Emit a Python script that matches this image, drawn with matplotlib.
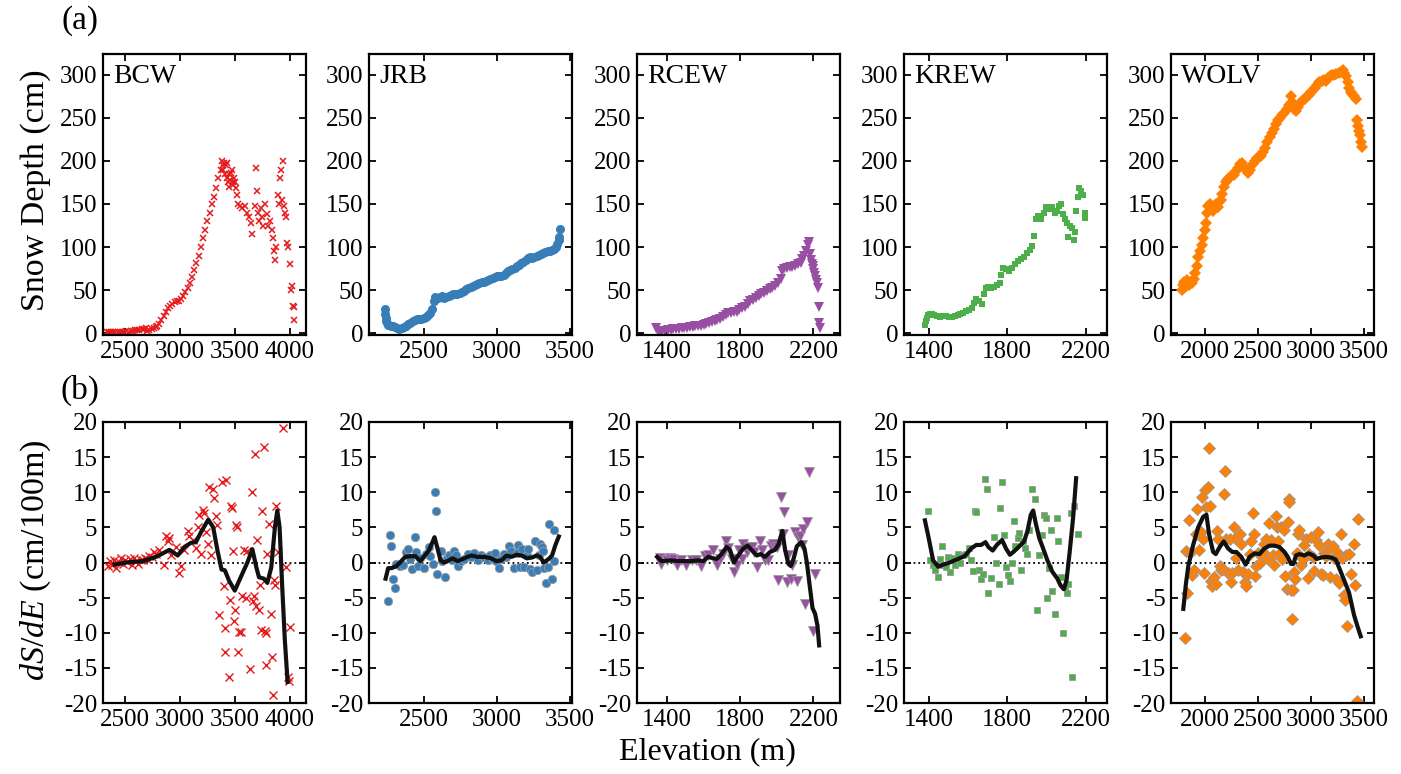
import numpy as np
import matplotlib.pyplot as plt

plt.rcParams['font.family'] = ['Liberation Serif', 'DejaVu Serif']
plt.rcParams['mathtext.fontset'] = 'custom'
plt.rcParams['mathtext.rm'] = 'Liberation Serif'
plt.rcParams['mathtext.it'] = 'Liberation Serif:italic'
plt.rcParams['axes.unicode_minus'] = False

# ---------------- (a) snow depth vs elevation ----------------
bcw_elev = [2330, 2350, 2370, 2390, 2410, 2430, 2450, 2470, 2490, 2510, 2530, 2550, 2570, 2590,
            2610, 2630, 2650, 2670, 2690, 2700, 2720, 2740, 2760, 2780, 2790, 2810, 2830, 2850,
            2870, 2890, 2910, 2930, 2950, 2970, 2990, 3010, 3030, 3050, 3070, 3090, 3110, 3130,
            3150, 3170, 3190, 3210, 3230, 3250, 3270, 3290, 3310, 3330, 3350, 3370, 3380, 3390,
            3395, 3400, 3410, 3420, 3425, 3430, 3440, 3445, 3450, 3460, 3465, 3470, 3480, 3485,
            3490, 3500, 3510, 3520, 3530, 3550, 3570, 3590, 3610, 3630, 3650, 3660, 3680, 3690,
            3700, 3710, 3720, 3740, 3750, 3760, 3780, 3790, 3800, 3820, 3840, 3850, 3860, 3870,
            3880, 3890, 3900, 3910, 3920, 3930, 3940, 3950, 3960, 3970, 3980, 3990, 4000, 4010,
            4020, 4030, 4040, 4045]
bcw_depth = [1, 2, 1, 2, 1, 2, 1, 2, 2, 3, 2, 3, 3, 4,
             4, 4, 5, 5, 6, 3, 4, 5, 6, 7, 9, 11, 15, 20,
             25, 29, 32, 34, 36, 37, 38, 40, 43, 48, 53, 58, 65, 73,
             82, 90, 100, 110, 120, 130, 140, 150, 158, 168, 180, 190, 200, 195,
             190, 197, 185, 195, 198, 180, 175, 170, 185, 178, 186, 190, 172, 175,
             180, 175, 168, 160, 150, 148, 145, 148, 140, 135, 128, 115, 148, 192,
             165, 140, 130, 145, 135, 125, 150, 138, 125, 130, 120, 110, 95, 85,
             100, 160, 150, 180, 190, 155, 200, 148, 140, 135, 105, 100, 80, 50,
             55, 32, 30, 15]

jrb_elev = [2235, 2238, 2240, 2245, 2250, 2260, 2275, 2290, 2305, 2320, 2335, 2350, 2365, 2380,
            2395, 2410, 2425, 2440, 2455, 2470, 2485, 2500, 2515, 2530, 2545, 2560, 2570, 2580,
            2595, 2610, 2625, 2640, 2655, 2670, 2685, 2700, 2715, 2730, 2745, 2760, 2775, 2790,
            2805, 2820, 2835, 2850, 2865, 2880, 2895, 2910, 2925, 2940, 2955, 2970, 2985, 3000,
            3015, 3030, 3045, 3060, 3075, 3090, 3105, 3120, 3135, 3150, 3165, 3180, 3195, 3210,
            3225, 3240, 3255, 3270, 3285, 3300, 3315, 3330, 3345, 3360, 3375, 3390, 3400, 3410,
            3420, 3425, 3430]
jrb_depth = [28, 22, 18, 14, 12, 10, 9, 8, 7, 6, 5, 6, 7, 9,
             11, 12, 14, 15, 16, 17, 17, 18, 19, 21, 24, 28, 38, 42,
             41, 42, 43, 41, 42, 43, 44, 45, 45, 46, 47, 48, 49, 51,
             53, 54, 55, 56, 57, 58, 59, 60, 61, 62, 63, 64, 65, 66,
             67, 66, 68, 70, 72, 73, 74, 76, 78, 79, 81, 83, 85, 87,
             88, 87, 89, 90, 91, 92, 93, 94, 95, 96, 97, 98, 100, 104,
             108, 112, 121]

rcew_elev = [1340, 1350, 1360, 1375, 1390, 1405, 1420, 1435, 1450, 1465, 1480, 1495, 1510, 1525,
             1540, 1555, 1570, 1585, 1600, 1615, 1630, 1645, 1660, 1675, 1690, 1705, 1720, 1735,
             1750, 1765, 1780, 1795, 1810, 1825, 1840, 1855, 1870, 1885, 1900, 1915, 1930, 1945,
             1960, 1975, 1990, 2005, 2020, 2030, 2040, 2055, 2070, 2085, 2100, 2115, 2130, 2140,
             2150, 2160, 2170, 2175, 2180, 2185, 2190, 2195, 2200, 2205, 2210, 2215, 2220, 2225,
             2228, 2232, 2236]
rcew_depth = [6, 3, 2, 3, 3, 4, 4, 5, 5, 5, 6, 6, 6, 7,
              7, 8, 8, 9, 10, 11, 12, 13, 14, 15, 17, 19, 21, 23,
              24, 25, 25, 27, 29, 31, 34, 37, 39, 41, 43, 45, 47, 49,
              51, 53, 55, 58, 63, 72, 75, 76, 77, 77, 78, 80, 82, 86,
              90, 95, 102, 106, 92, 85, 80, 78, 75, 70, 66, 62, 58, 52,
              30, 12, 6]

krew_elev = [1378, 1382, 1388, 1395, 1405, 1415, 1425, 1440, 1455, 1470, 1485, 1500, 1515, 1530,
             1545, 1560, 1575, 1590, 1605, 1620, 1630, 1640, 1655, 1670, 1680, 1690, 1700, 1715,
             1730, 1745, 1760, 1770, 1780, 1795, 1810, 1825, 1840, 1855, 1870, 1885, 1900, 1915,
             1925, 1935, 1945, 1955, 1970, 1985, 2000, 2015, 2030, 2045, 2055, 2065, 2075, 2085,
             2095, 2105, 2110, 2120, 2130, 2140, 2145, 2150, 2160, 2165, 2175, 2185, 2195, 2198]
krew_depth = [10, 14, 18, 21, 22, 22, 21, 20, 19, 20, 20, 19, 19, 20,
              21, 22, 24, 26, 27, 29, 35, 40, 37, 34, 45, 52, 54, 52,
              54, 56, 58, 68, 76, 74, 72, 76, 80, 84, 86, 89, 93, 97,
              101, 113, 133, 136, 133, 140, 146, 144, 147, 140, 142, 148, 150, 138,
              132, 128, 112, 124, 122, 108, 118, 142, 158, 168, 165, 160, 140, 134]

wolv_elev = [1780, 1790, 1800, 1810, 1820, 1835, 1850, 1865, 1880, 1895, 1910, 1925, 1940, 1955,
             1970, 1985, 2000, 2010, 2020, 2030, 2045, 2060, 2075, 2090, 2105, 2120, 2135, 2150,
             2165, 2180, 2195, 2210, 2230, 2250, 2270, 2290, 2310, 2330, 2350, 2370, 2390, 2410,
             2430, 2450, 2470, 2490, 2510, 2530, 2550, 2570, 2590, 2610, 2630, 2650, 2670, 2690,
             2710, 2730, 2750, 2770, 2790, 2810, 2825, 2840, 2860, 2880, 2900, 2920, 2940, 2960,
             2980, 3000, 3020, 3040, 3060, 3080, 3100, 3120, 3140, 3160, 3180, 3200, 3220, 3240,
             3260, 3280, 3300, 3315, 3330, 3345, 3360, 3375, 3390, 3405, 3420, 3435, 3445, 3455,
             3465, 3475, 3485]
wolv_depth = [50, 56, 60, 54, 58, 62, 56, 60, 58, 63, 70, 78, 88, 95,
              102, 110, 120, 128, 140, 148, 150, 146, 142, 148, 150, 147, 152, 155,
              162, 170, 176, 178, 180, 182, 184, 188, 192, 196, 198, 193, 190, 186,
              190, 196, 200, 203, 204, 206, 210, 215, 222, 228, 232, 237, 243, 247,
              250, 253, 256, 260, 265, 275, 268, 260, 258, 262, 267, 270, 272, 275,
              277, 280, 282, 285, 288, 292, 293, 294, 293, 296, 299, 300, 300, 301,
              302, 303, 305, 302, 298, 292, 285, 280, 278, 275, 272, 248, 240, 235,
              230, 222, 216]

# ---------------- (b) gradient dS/dE and smoothed curve ----------------
bcw_gx = [2340, 2360, 2380, 2400, 2418, 2440, 2464, 2480, 2500, 2520, 2540, 2560, 2580, 2600,
          2620, 2640, 2660, 2680, 2700, 2720, 2740, 2760, 2780, 2812, 2858, 2873, 2888, 2903,
          2920, 2964, 2994, 3009, 3039, 3070, 3085, 3115, 3145, 3161, 3176, 3191, 3206, 3221,
          3236, 3251, 3267, 3282, 3297, 3312, 3327, 3342, 3358, 3379, 3397, 3409, 3412, 3418,
          3448, 3454, 3464, 3479, 3485, 3494, 3500, 3515, 3524, 3533, 3539, 3554, 3564, 3585,
          3600, 3615, 3636, 3654, 3670, 3676, 3685, 3691, 3706, 3721, 3727, 3736, 3751, 3766,
          3773, 3782, 3788, 3797, 3812, 3827, 3842, 3851, 3857, 3866, 3873, 3894, 3939, 3969,
          3988, 3994, 4000]
bcw_grad = [-0.5, 0.2, -0.3, 0.4, -0.8, 0.1, 0.7, -0.2, 0.3, 0.1, 0.5, -0.3, 0.6, 0.2,
            -0.2, 0.4, 0.3, 0.6, 0.5, 0.9, 0.8, 1.5, 1.2, 1.8, -0.3, 3.8, 3.0, 3.5,
            1.0, 2.2, -1.5, -0.5, 1.8, 4.5, 3.8, 3.2, 2.0, 5.0, 6.7, 1.2, 7.5, 7.0,
            4.3, 2.7, 10.8, 1.0, 10.5, 9.2, 6.6, 5.4, -7.5, 11.5, -3.3, -9.3, -12.7, 11.8,
            -16.3, -5.3, 8.0, 7.8, 1.7, -8.3, -6.8, 5.4, 5.1, -12.7, -9.9, -9.9, -4.8, 1.8,
            -5.0, 1.7, -15.2, 10.0, -5.5, -4.8, 15.4, -6.2, 3.2, -6.8, -3.2, -9.6, 7.4, 16.4,
            -9.7, -14.6, -10.0, 1.2, 5.5, -7.4, -13.4, -18.9, -2.5, -3.2, 8.0, 1.5, 19.1, -0.7,
            -16.3, -16.8, -9.2]
bcw_lx = [2403, 2509, 2661, 2782, 2903, 2979, 3039, 3100, 3145, 3191, 3258, 3303, 3342, 3379,
          3409, 3448, 3500, 3554, 3615, 3660, 3697, 3721, 3766, 3797, 3833, 3866, 3888, 3909,
          3933, 3957, 3982]
bcw_line = [-0.3, 0.0, 0.2, 0.8, 1.8, 1.0, 2.2, 2.8, 2.9, 4.3, 6.1, 5.0, 1.7, -1.0,
            -1.1, -2.6, -4.0, -2.1, 0.0, 1.9, -0.7, -2.1, -2.3, -2.9, -0.7, 5.0, 7.4, 5.0,
            -3.5, -11.1, -17.0]

jrb_gx = [2258, 2270, 2277, 2288, 2304, 2311, 2339, 2362, 2380, 2392, 2408, 2420, 2443, 2450,
          2461, 2477, 2500, 2519, 2535, 2546, 2565, 2574, 2581, 2592, 2615, 2627, 2645, 2662,
          2673, 2691, 2708, 2719, 2731, 2754, 2777, 2800, 2823, 2846, 2869, 2892, 2915, 2938,
          2950, 2973, 2984, 2996, 3014, 3030, 3049, 3065, 3081, 3099, 3118, 3134, 3145, 3157,
          3168, 3187, 3203, 3214, 3226, 3242, 3261, 3272, 3284, 3295, 3307, 3314, 3323, 3334,
          3346, 3353, 3376, 3387, 3392]
jrb_grad = [-5.5, 3.9, 2.4, -2.4, -3.6, -0.2, -0.5, -0.3, 1.5, 1.9, 0.5, -0.9, 3.7, 1.5,
            -0.5, 0.6, -0.8, 1.2, 2.2, 0.9, -0.2, 10.0, 7.4, -1.7, 1.6, 0.2, -2.1, 0.7,
            1.0, 0.3, 1.6, 1.0, -0.5, 0.2, 0.5, 1.2, 0.8, 1.4, 0.3, 1.0, 0.8, 0.3,
            1.0, 0.5, 1.3, 0.2, -0.8, 0.5, 1.2, 0.8, 2.4, 1.7, -0.8, 1.4, 2.5, -0.6,
            1.9, -0.6, 1.0, 1.9, -0.9, -1.3, 3.0, -1.0, 1.0, 2.7, 2.2, 1.6, -0.8, -2.9,
            -0.6, 5.5, -2.4, 0.2, 4.6]
jrb_lx = [2240, 2258, 2281, 2316, 2374, 2408, 2443, 2477, 2512, 2535, 2558, 2574, 2592, 2615,
          2638, 2662, 2696, 2731, 2777, 2823, 2869, 2915, 2961, 2996, 3030, 3065, 3099, 3134,
          3168, 3203, 3237, 3272, 3295, 3318, 3353, 3376, 3399, 3422]
jrb_line = [-2.3, -0.8, -0.8, -0.5, 0.8, 0.9, 0.9, 0.2, 1.1, 1.7, 2.8, 3.6, 2.2, 0.3,
            0.0, 0.2, 0.6, 0.2, 0.6, 1.0, 0.8, 0.8, 0.6, 0.2, 0.3, 1.0, 0.8, 1.1,
            1.0, 0.6, 0.7, 1.0, 0.8, 0.0, 0.5, 1.0, 2.5, 3.7]

rcew_gx = [1360, 1369, 1400, 1415, 1433, 1457, 1479, 1506, 1534, 1561, 1588, 1607, 1625, 1652,
           1671, 1689, 1707, 1720, 1734, 1753, 1767, 1780, 1795, 1808, 1817, 1835, 1850, 1862,
           1875, 1890, 1908, 1917, 1935, 1954, 1966, 1981, 1999, 2008, 2023, 2036, 2039, 2054,
           2063, 2076, 2085, 2099, 2109, 2118, 2127, 2136, 2145, 2154, 2164, 2175, 2197, 2209]
rcew_grad = [0.6, -0.2, 0.4, 0.6, 0.5, -0.3, 0.4, -0.3, 0.3, 0.4, -0.5, 0.9, 1.1, 1.8,
             -0.4, 0.5, 1.2, 3.0, 2.0, 0.5, -1.4, -0.4, 1.8, 0.5, 2.6, 1.5, 2.2, 2.2,
             1.5, -0.6, 3.1, 1.8, 0.3, 0.4, 2.3, 2.6, 2.2, -2.5, 9.3, 4.0, 7.2, -2.8,
             1.0, -2.4, -0.4, 4.3, -2.7, 3.7, 3.8, 2.5, 4.7, -5.9, 5.7, 12.9, -9.8, -1.6]
rcew_lx = [1346, 1369, 1415, 1470, 1524, 1570, 1598, 1625, 1652, 1671, 1698, 1725, 1744, 1766,
           1789, 1817, 1840, 1862, 1890, 1912, 1935, 1963, 1990, 2008, 2030, 2045, 2063, 2076,
           2091, 2109, 2133, 2151, 2164, 2178, 2195, 2209, 2222, 2231]
rcew_line = [0.8, 0.2, 0.3, 0.2, 0.2, 0.3, 0.2, 0.8, 0.6, 0.5, 1.2, 2.2, 1.8, 0.0,
             1.0, 2.0, 2.4, 1.8, 1.0, 1.2, 0.8, 1.5, 1.8, 2.5, 4.5, 1.8, -0.2, -0.5,
             0.5, 2.3, 2.9, 2.0, 0.0, -3.0, -6.5, -7.3, -9.0, -11.8]

krew_gx = [1395, 1403, 1417, 1429, 1446, 1454, 1463, 1471, 1488, 1496, 1505, 1522, 1530, 1547,
           1559, 1573, 1590, 1603, 1615, 1624, 1632, 1641, 1654, 1666, 1674, 1686, 1695, 1703,
           1717, 1734, 1742, 1756, 1764, 1773, 1785, 1793, 1802, 1813, 1824, 1832, 1841, 1852,
           1861, 1869, 1878, 1891, 1900, 1912, 1924, 1941, 1954, 1963, 1976, 1985, 1996, 2005,
           2013, 2022, 2030, 2042, 2056, 2059, 2073, 2084, 2095, 2103, 2112, 2124, 2132, 2141,
           2163]
krew_grad = [7.3, 0.3, -0.4, -1.0, -2.1, 0.5, 2.3, -0.3, -0.6, 0.8, -1.4, 0.6, -0.4, 1.2,
             0.0, 1.1, 1.2, 2.0, 0.4, -1.2, 7.4, 7.2, -1.0, -2.3, -1.6, 11.9, 10.4, -4.4,
             -2.2, 3.6, 0.0, -3.0, 7.7, 11.4, 3.9, -0.7, -1.8, -2.7, -0.1, 5.9, 2.4, 3.5,
             4.2, -1.1, 3.0, 2.0, 1.2, 4.6, 10.5, 9.0, -6.8, 1.0, 3.9, 6.8, 6.3, -5.0,
             -0.8, 4.6, -4.0, -7.3, 6.4, 3.1, -2.0, -10.0, -3.5, -4.3, -3.0, 7.1, -16.3, 8.0,
             4.1]
krew_lx = [1378, 1395, 1420, 1446, 1471, 1505, 1547, 1581, 1615, 1641, 1666, 1688, 1703, 1725,
           1746, 1773, 1793, 1813, 1835, 1861, 1886, 1903, 1920, 1932, 1946, 1963, 1983, 2005,
           2030, 2056, 2073, 2089, 2103, 2119, 2137, 2152]
krew_line = [6.0, 3.8, 0.3, -0.6, -0.3, 0.0, 0.5, 0.9, 2.0, 2.5, 2.5, 2.9, 2.2, 1.7,
             2.5, 3.2, 2.0, 1.1, 1.6, 2.3, 3.0, 4.5, 6.8, 7.4, 5.5, 3.5, 2.0, 0.3,
             -1.3, -2.3, -3.3, -3.8, -2.5, 1.5, 6.5, 12.0]

wolv_gx = [1812, 1822, 1834, 1850, 1859, 1875, 1900, 1915, 1928, 1947, 1959, 1972, 1978, 1990,
           2003, 2015, 2031, 2040, 2053, 2062, 2072, 2087, 2103, 2115, 2128, 2140, 2156, 2172,
           2181, 2187, 2203, 2219, 2234, 2244, 2259, 2275, 2287, 2297, 2312, 2328, 2344, 2359,
           2375, 2390, 2406, 2422, 2437, 2453, 2459, 2469, 2484, 2500, 2515, 2531, 2547, 2562,
           2578, 2594, 2609, 2625, 2640, 2656, 2672, 2678, 2693, 2703, 2719, 2728, 2744, 2759,
           2772, 2781, 2790, 2797, 2812, 2822, 2828, 2837, 2853, 2865, 2875, 2890, 2906, 2922,
           2937, 2953, 2969, 2984, 3000, 3015, 3031, 3047, 3062, 3078, 3094, 3109, 3125, 3140,
           3156, 3172, 3181, 3203, 3219, 3234, 3250, 3265, 3281, 3297, 3312, 3322, 3334, 3344,
           3359, 3375, 3406, 3415, 3437, 3447]
wolv_grad = [-10.8, 1.7, -4.3, 6.0, 1.3, -1.8, -1.0, 4.0, 7.6, 1.8, 4.3, 9.3, 3.4, -1.5,
             10.3, 7.9, 10.8, 16.3, 8.1, -2.6, -3.3, -2.1, -3.0, 4.5, 3.3, -0.5, -1.0, -0.9,
             9.7, 13.0, 3.3, -1.5, 3.4, -2.8, -1.5, 5.1, 3.5, 0.6, -1.1, 4.0, 2.6, -1.4,
             -2.8, -3.4, -1.7, 1.2, 3.0, 7.0, 4.0, -1.9, -0.5, 1.3, -0.1, 1.0, 1.5, 2.6,
             3.4, 0.5, 5.6, 3.2, 1.0, -0.4, 6.6, 5.0, 3.1, 1.2, 5.0, 0.5, 4.6, -1.9,
             -3.8, 5.8, 9.1, 8.6, -3.9, -8.1, -3.9, -1.3, -2.3, 1.3, 4.1, 4.6, -0.4, 0.5,
             2.5, 3.4, -2.2, 1.2, 3.6, 0.8, -1.2, 3.2, 4.4, 2.5, -1.6, -1.8, 1.3, 0.9,
             2.7, 1.9, -2.1, 2.3, 0.6, -2.3, 1.5, -2.9, 4.1, 0.6, -4.6, -5.3, 1.0, -9.0,
             1.2, -1.7, 2.7, -3.2, -19.7, 6.2]
wolv_lx = [1797, 1822, 1844, 1890, 1937, 1984, 2015, 2040, 2078, 2103, 2140, 2178, 2219, 2259,
           2297, 2344, 2384, 2422, 2469, 2515, 2562, 2609, 2656, 2703, 2750, 2781, 2812, 2834,
           2859, 2890, 2937, 2978, 3022, 3053, 3094, 3140, 3194, 3234, 3272, 3312, 3359, 3406,
           3447, 3469]
wolv_line = [-6.6, -3.0, -0.5, 2.5, 5.0, 6.5, 6.8, 4.0, 1.5, 1.2, 2.2, 3.0, 2.0, 1.5,
             1.5, 0.8, -0.3, 0.8, 1.3, 1.2, 2.0, 2.4, 2.4, 2.2, 1.5, 0.8, -0.2, -0.2,
             1.0, 1.2, 1.0, 1.3, 1.0, 0.5, 0.7, 0.8, 0.7, 0.4, -1.0, -2.5, -4.3, -7.5,
             -9.5, -10.5]

sites = ['BCW', 'JRB', 'RCEW', 'KREW', 'WOLV']
top_x = [bcw_elev, jrb_elev, rcew_elev, krew_elev, wolv_elev]
top_y = [bcw_depth, jrb_depth, rcew_depth, krew_depth, wolv_depth]
bot_x = [bcw_gx, jrb_gx, rcew_gx, krew_gx, wolv_gx]
bot_y = [bcw_grad, jrb_grad, rcew_grad, krew_grad, wolv_grad]
line_x = [bcw_lx, jrb_lx, rcew_lx, krew_lx, wolv_lx]
line_y = [bcw_line, jrb_line, rcew_line, krew_line, wolv_line]
xticks = [[2500, 3000, 3500, 4000], [2500, 3000, 3500], [1400, 1800, 2200],
          [1400, 1800, 2200], [2000, 2500, 3000, 3500]]

# styles
colors = ['#e41a1c', '#377eb8', '#984ea3', '#4daf4a', '#ff7f00']
markers = ['x', 'o', 'v', 's', 'D']
ms_top = [5, 6.5, 7, 5, 6]
ms_bot = [5.5, 6, 7, 5, 6]
xlims = [(2297, 4150), (2127, 3512), (1236, 2345), (1271, 2310), (1681, 3594)]
lefts = [103, 369, 637, 904, 1171]

W, H = 1401, 774
fig = plt.figure(figsize=(W / 100, H / 100), dpi=100)


def style_axes(ax):
    for s in ax.spines.values():
        s.set_linewidth(1.6)
    ax.tick_params(direction='in', top=True, right=True, length=5, width=1.3,
                   labelsize=18, pad=4)


for i in range(5):
    l = lefts[i]
    ax = fig.add_axes([l / W, 1 - 335 / H, 203 / W, 281 / H])
    style_axes(ax)
    mk = markers[i]
    if mk == 'x':
        ax.plot(top_x[i], top_y[i], ls='none', marker=mk, ms=ms_top[i], mew=1.1, color=colors[i])
    else:
        ax.plot(top_x[i], top_y[i], ls='none', marker=mk, ms=ms_top[i], mew=0, color=colors[i])
    ax.set_xlim(xlims[i])
    ax.set_ylim(-2, 324)
    ax.set_yticks(np.arange(0, 301, 50))
    ax.set_xticks(xticks[i])
    ax.text(0.05, 0.965, sites[i], transform=ax.transAxes, fontsize=20, va='top', ha='left')

    ax2 = fig.add_axes([l / W, 1 - 703 / H, 203 / W, 281 / H])
    style_axes(ax2)
    ax2.axhline(0, color='black', ls=':', lw=1.3, zorder=1)
    if mk == 'x':
        ax2.plot(bot_x[i], bot_y[i], ls='none', marker=mk, ms=ms_bot[i], mew=1.0,
                 color=colors[i], zorder=2)
    else:
        ax2.plot(bot_x[i], bot_y[i], ls='none', marker=mk, ms=ms_bot[i], mew=0.6,
                 mfc=colors[i], mec='#999999', zorder=2)
    ax2.plot(line_x[i], line_y[i], color='#111111', lw=3, zorder=3)
    ax2.set_xlim(xlims[i])
    ax2.set_ylim(-20, 20)
    ax2.set_yticks(np.arange(-20, 21, 5))
    ax2.set_xticks(xticks[i])

fig.text(80 / W, 1 - 21 / H, '(a)', fontsize=24, ha='center', va='center')
fig.text(80 / W, 1 - 390 / H, '(b)', fontsize=24, ha='center', va='center')
fig.text(36 / W, 1 - 190 / H, 'Snow Depth (cm)', fontsize=24.5, rotation=90,
         ha='center', va='center')
fig.text(36 / W, 1 - 560 / H, r'$dS/dE$ (cm/100m)', fontsize=24.5, rotation=90,
         ha='center', va='center')
fig.text(707 / W, 1 - 752 / H, 'Elevation (m)', fontsize=23, ha='center', va='center')

fig.savefig('out.png', dpi=100)
